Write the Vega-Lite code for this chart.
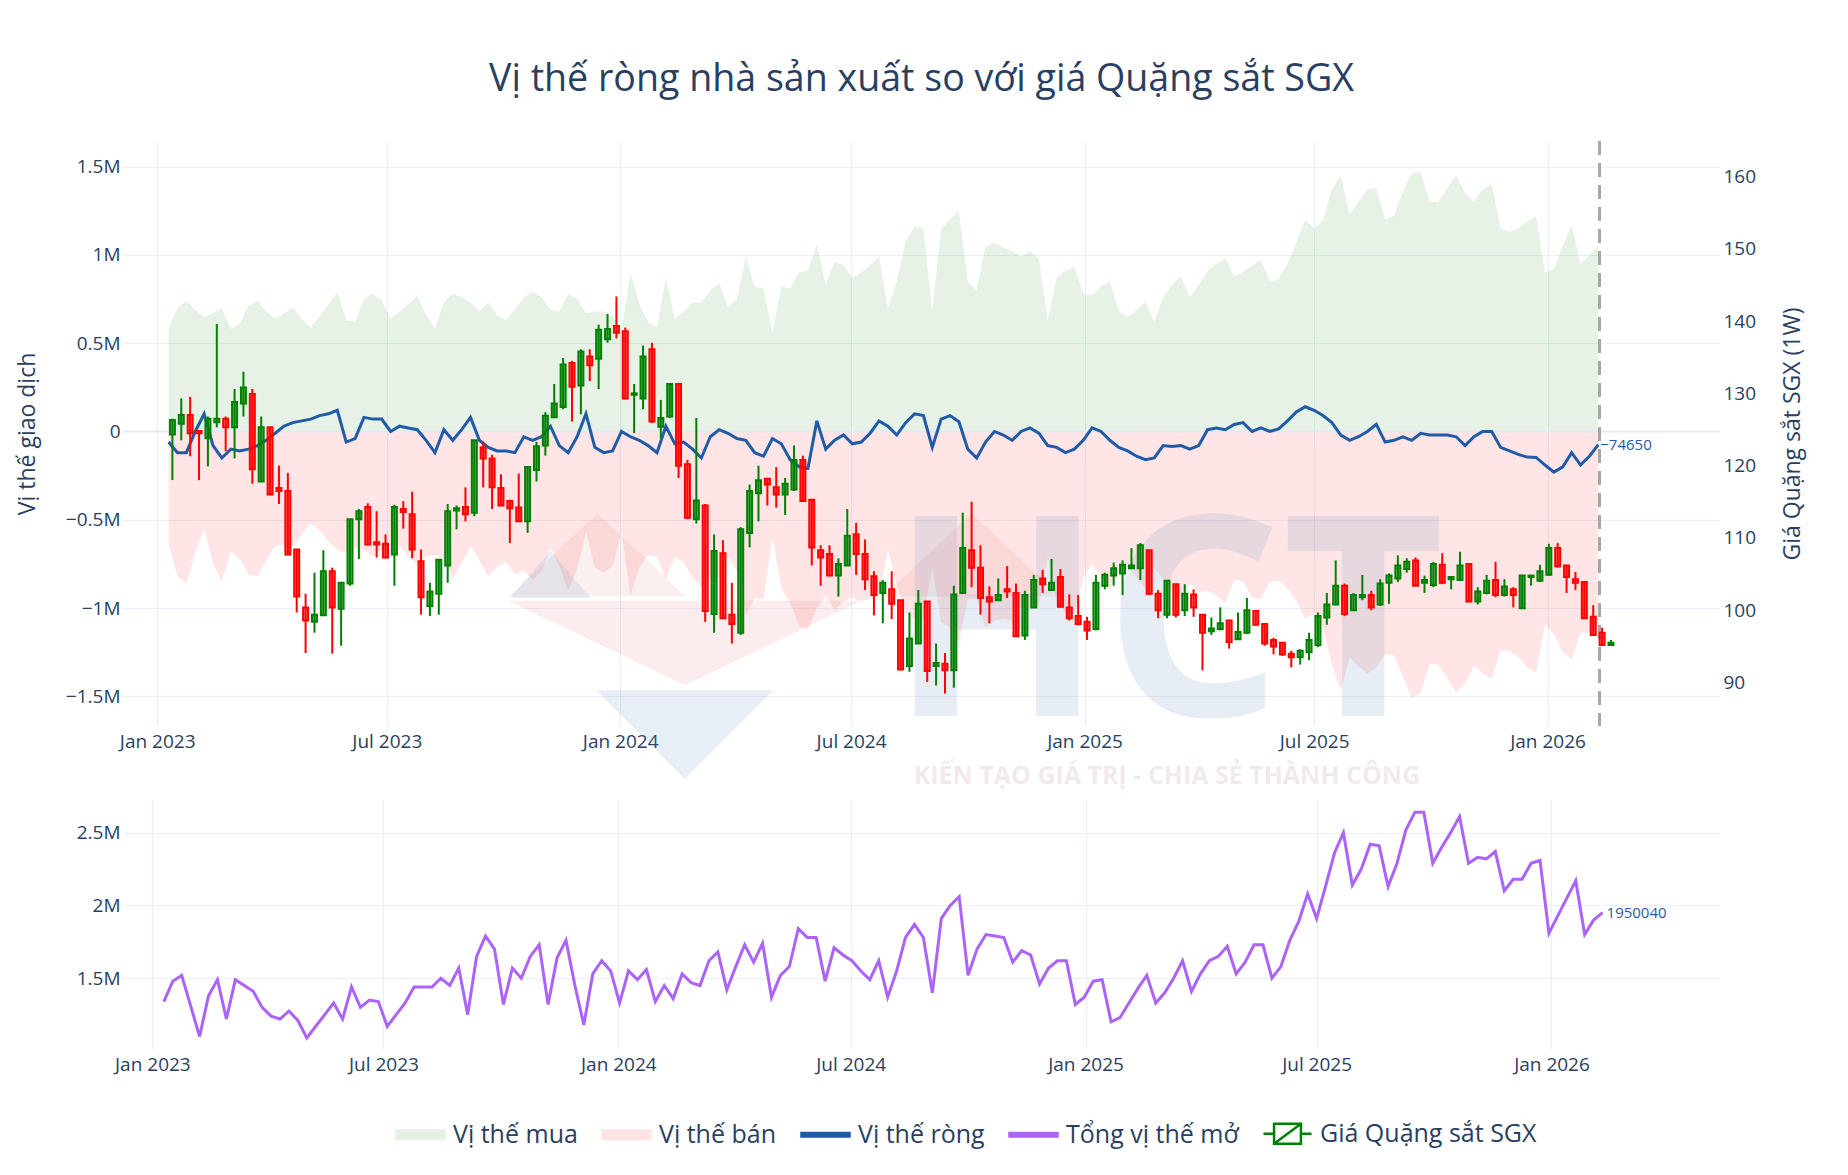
{
  "$schema": "https://vega.github.io/schema/vega-lite/v6.json",
  "background": "white",
  "padding": {"left": 16, "top": 60, "right": 10, "bottom": 10},
  "config": {
    "font": "Open Sans",
    "view": {"stroke": null},
    "axis": {"labelFont": "Open Sans", "labelFontSize": 19, "labelColor": "#2a3f5f", "titleFont": "Open Sans", "titleFontSize": 23, "titleFontWeight": "normal", "titleColor": "#2a3f5f", "gridColor": "#EBF0F8", "gridWidth": 1, "domain": false, "ticks": false}
  },
  "datasets": {
    "one": [{}],
    "cot": [
      {"date":"2023-01-10","long":580000,"short":-640000,"net":-60000,"oi":1340000},
      {"date":"2023-01-17","long":700000,"short":-820000,"net":-120000,"oi":1480000},
      {"date":"2023-01-24","long":740000,"short":-860000,"net":-120000,"oi":1520000},
      {"date":"2023-01-31","long":690000,"short":-690000,"net":0,"oi":1310000},
      {"date":"2023-02-07","long":650000,"short":-550000,"net":100000,"oi":1100000},
      {"date":"2023-02-14","long":670000,"short":-750000,"net":-80000,"oi":1380000},
      {"date":"2023-02-21","long":700000,"short":-850000,"net":-150000,"oi":1490000},
      {"date":"2023-02-28","long":580000,"short":-680000,"net":-100000,"oi":1220000},
      {"date":"2023-03-07","long":610000,"short":-720000,"net":-110000,"oi":1490000},
      {"date":"2023-03-14","long":710000,"short":-810000,"net":-100000,"oi":1450000},
      {"date":"2023-03-21","long":740000,"short":-820000,"net":-80000,"oi":1410000},
      {"date":"2023-03-28","long":680000,"short":-730000,"net":-50000,"oi":1300000},
      {"date":"2023-04-04","long":640000,"short":-650000,"net":-10000,"oi":1240000},
      {"date":"2023-04-11","long":670000,"short":-640000,"net":30000,"oi":1220000},
      {"date":"2023-04-18","long":700000,"short":-650000,"net":50000,"oi":1275000},
      {"date":"2023-04-25","long":640000,"short":-580000,"net":60000,"oi":1210000},
      {"date":"2023-05-02","long":590000,"short":-520000,"net":70000,"oi":1090000},
      {"date":"2023-05-09","long":650000,"short":-560000,"net":90000,"oi":1170000},
      {"date":"2023-05-16","long":720000,"short":-620000,"net":100000,"oi":1250000},
      {"date":"2023-05-23","long":790000,"short":-670000,"net":120000,"oi":1330000},
      {"date":"2023-05-30","long":630000,"short":-690000,"net":-60000,"oi":1220000},
      {"date":"2023-06-06","long":620000,"short":-660000,"net":-40000,"oi":1440000},
      {"date":"2023-06-13","long":750000,"short":-670000,"net":80000,"oi":1300000},
      {"date":"2023-06-20","long":780000,"short":-710000,"net":70000,"oi":1350000},
      {"date":"2023-06-27","long":740000,"short":-670000,"net":70000,"oi":1340000},
      {"date":"2023-07-04","long":640000,"short":-640000,"net":0,"oi":1170000},
      {"date":"2023-07-11","long":680000,"short":-650000,"net":30000,"oi":1250000},
      {"date":"2023-07-18","long":720000,"short":-700000,"net":20000,"oi":1330000},
      {"date":"2023-07-25","long":770000,"short":-760000,"net":10000,"oi":1440000},
      {"date":"2023-08-01","long":660000,"short":-710000,"net":-50000,"oi":1440000},
      {"date":"2023-08-08","long":580000,"short":-700000,"net":-120000,"oi":1440000},
      {"date":"2023-08-15","long":730000,"short":-720000,"net":10000,"oi":1500000},
      {"date":"2023-08-22","long":780000,"short":-830000,"net":-50000,"oi":1450000},
      {"date":"2023-08-29","long":760000,"short":-750000,"net":10000,"oi":1570000},
      {"date":"2023-09-05","long":730000,"short":-650000,"net":80000,"oi":1250000},
      {"date":"2023-09-12","long":680000,"short":-730000,"net":-50000,"oi":1650000},
      {"date":"2023-09-19","long":730000,"short":-820000,"net":-90000,"oi":1790000},
      {"date":"2023-09-26","long":660000,"short":-770000,"net":-110000,"oi":1700000},
      {"date":"2023-10-03","long":630000,"short":-740000,"net":-110000,"oi":1320000},
      {"date":"2023-10-10","long":690000,"short":-810000,"net":-120000,"oi":1570000},
      {"date":"2023-10-17","long":760000,"short":-790000,"net":-30000,"oi":1500000},
      {"date":"2023-10-24","long":790000,"short":-840000,"net":-50000,"oi":1650000},
      {"date":"2023-10-31","long":760000,"short":-790000,"net":-30000,"oi":1730000},
      {"date":"2023-11-07","long":690000,"short":-660000,"net":30000,"oi":1320000},
      {"date":"2023-11-14","long":680000,"short":-760000,"net":-80000,"oi":1640000},
      {"date":"2023-11-21","long":780000,"short":-900000,"net":-120000,"oi":1760000},
      {"date":"2023-11-28","long":750000,"short":-780000,"net":-30000,"oi":1450000},
      {"date":"2023-12-05","long":670000,"short":-570000,"net":100000,"oi":1180000},
      {"date":"2023-12-12","long":680000,"short":-770000,"net":-90000,"oi":1530000},
      {"date":"2023-12-19","long":680000,"short":-800000,"net":-120000,"oi":1620000},
      {"date":"2023-12-26","long":650000,"short":-760000,"net":-110000,"oi":1550000},
      {"date":"2024-01-02","long":570000,"short":-570000,"net":0,"oi":1330000},
      {"date":"2024-01-09","long":900000,"short":-930000,"net":-30000,"oi":1550000},
      {"date":"2024-01-16","long":720000,"short":-770000,"net":-50000,"oi":1490000},
      {"date":"2024-01-23","long":620000,"short":-700000,"net":-80000,"oi":1560000},
      {"date":"2024-01-30","long":590000,"short":-710000,"net":-120000,"oi":1340000},
      {"date":"2024-02-06","long":870000,"short":-840000,"net":30000,"oi":1450000},
      {"date":"2024-02-13","long":640000,"short":-710000,"net":-70000,"oi":1360000},
      {"date":"2024-02-20","long":680000,"short":-740000,"net":-60000,"oi":1530000},
      {"date":"2024-02-27","long":730000,"short":-830000,"net":-100000,"oi":1470000},
      {"date":"2024-03-05","long":730000,"short":-880000,"net":-150000,"oi":1450000},
      {"date":"2024-03-12","long":800000,"short":-830000,"net":-30000,"oi":1620000},
      {"date":"2024-03-19","long":840000,"short":-830000,"net":10000,"oi":1680000},
      {"date":"2024-03-26","long":700000,"short":-710000,"net":-10000,"oi":1420000},
      {"date":"2024-04-02","long":750000,"short":-790000,"net":-40000,"oi":1580000},
      {"date":"2024-04-09","long":990000,"short":-1040000,"net":-50000,"oi":1730000},
      {"date":"2024-04-16","long":820000,"short":-940000,"net":-120000,"oi":1610000},
      {"date":"2024-04-23","long":810000,"short":-950000,"net":-140000,"oi":1740000},
      {"date":"2024-04-30","long":560000,"short":-600000,"net":-40000,"oi":1370000},
      {"date":"2024-05-07","long":820000,"short":-890000,"net":-70000,"oi":1520000},
      {"date":"2024-05-14","long":810000,"short":-970000,"net":-160000,"oi":1580000},
      {"date":"2024-05-21","long":900000,"short":-1100000,"net":-200000,"oi":1840000},
      {"date":"2024-05-28","long":910000,"short":-1120000,"net":-210000,"oi":1780000},
      {"date":"2024-06-04","long":1060000,"short":-1000000,"net":60000,"oi":1780000},
      {"date":"2024-06-11","long":830000,"short":-930000,"net":-100000,"oi":1480000},
      {"date":"2024-06-18","long":960000,"short":-1010000,"net":-50000,"oi":1710000},
      {"date":"2024-06-25","long":940000,"short":-960000,"net":-20000,"oi":1660000},
      {"date":"2024-07-02","long":870000,"short":-940000,"net":-70000,"oi":1620000},
      {"date":"2024-07-09","long":900000,"short":-960000,"net":-60000,"oi":1550000},
      {"date":"2024-07-16","long":940000,"short":-950000,"net":-10000,"oi":1490000},
      {"date":"2024-07-23","long":990000,"short":-930000,"net":60000,"oi":1620000},
      {"date":"2024-07-30","long":700000,"short":-670000,"net":30000,"oi":1370000},
      {"date":"2024-08-06","long":850000,"short":-870000,"net":-20000,"oi":1550000},
      {"date":"2024-08-13","long":1080000,"short":-1030000,"net":50000,"oi":1780000},
      {"date":"2024-08-20","long":1160000,"short":-1060000,"net":100000,"oi":1870000},
      {"date":"2024-08-27","long":1150000,"short":-1060000,"net":90000,"oi":1780000},
      {"date":"2024-09-03","long":680000,"short":-770000,"net":-90000,"oi":1400000},
      {"date":"2024-09-10","long":1150000,"short":-1080000,"net":70000,"oi":1910000},
      {"date":"2024-09-17","long":1200000,"short":-1110000,"net":90000,"oi":2000000},
      {"date":"2024-09-24","long":1250000,"short":-1195000,"net":55000,"oi":2060000},
      {"date":"2024-10-01","long":850000,"short":-950000,"net":-100000,"oi":1520000},
      {"date":"2024-10-08","long":800000,"short":-950000,"net":-150000,"oi":1700000},
      {"date":"2024-10-15","long":1050000,"short":-1110000,"net":-60000,"oi":1800000},
      {"date":"2024-10-22","long":1070000,"short":-1070000,"net":0,"oi":1790000},
      {"date":"2024-10-29","long":1040000,"short":-1060000,"net":-20000,"oi":1780000},
      {"date":"2024-11-05","long":1020000,"short":-1070000,"net":-50000,"oi":1610000},
      {"date":"2024-11-12","long":990000,"short":-990000,"net":0,"oi":1690000},
      {"date":"2024-11-19","long":1020000,"short":-1000000,"net":20000,"oi":1660000},
      {"date":"2024-11-26","long":980000,"short":-990000,"net":-10000,"oi":1460000},
      {"date":"2024-12-03","long":630000,"short":-710000,"net":-80000,"oi":1570000},
      {"date":"2024-12-10","long":870000,"short":-960000,"net":-90000,"oi":1620000},
      {"date":"2024-12-17","long":910000,"short":-1030000,"net":-120000,"oi":1620000},
      {"date":"2024-12-24","long":930000,"short":-1030000,"net":-100000,"oi":1320000},
      {"date":"2024-12-31","long":780000,"short":-830000,"net":-50000,"oi":1370000},
      {"date":"2025-01-07","long":770000,"short":-750000,"net":20000,"oi":1480000},
      {"date":"2025-01-14","long":820000,"short":-820000,"net":0,"oi":1490000},
      {"date":"2025-01-21","long":850000,"short":-900000,"net":-50000,"oi":1200000},
      {"date":"2025-01-28","long":680000,"short":-770000,"net":-90000,"oi":1230000},
      {"date":"2025-02-04","long":645000,"short":-755000,"net":-110000,"oi":1330000},
      {"date":"2025-02-11","long":690000,"short":-830000,"net":-140000,"oi":1430000},
      {"date":"2025-02-18","long":730000,"short":-890000,"net":-160000,"oi":1520000},
      {"date":"2025-02-25","long":620000,"short":-770000,"net":-150000,"oi":1330000},
      {"date":"2025-03-04","long":760000,"short":-840000,"net":-80000,"oi":1400000},
      {"date":"2025-03-11","long":830000,"short":-915000,"net":-85000,"oi":1500000},
      {"date":"2025-03-18","long":880000,"short":-960000,"net":-80000,"oi":1620000},
      {"date":"2025-03-25","long":760000,"short":-860000,"net":-100000,"oi":1410000},
      {"date":"2025-04-01","long":830000,"short":-910000,"net":-80000,"oi":1530000},
      {"date":"2025-04-08","long":910000,"short":-900000,"net":10000,"oi":1620000},
      {"date":"2025-04-15","long":950000,"short":-930000,"net":20000,"oi":1650000},
      {"date":"2025-04-22","long":980000,"short":-970000,"net":10000,"oi":1720000},
      {"date":"2025-04-29","long":880000,"short":-840000,"net":40000,"oi":1530000},
      {"date":"2025-05-06","long":900000,"short":-850000,"net":50000,"oi":1610000},
      {"date":"2025-05-13","long":940000,"short":-940000,"net":0,"oi":1730000},
      {"date":"2025-05-20","long":970000,"short":-950000,"net":20000,"oi":1730000},
      {"date":"2025-05-27","long":850000,"short":-850000,"net":0,"oi":1500000},
      {"date":"2025-06-03","long":860000,"short":-845000,"net":15000,"oi":1580000},
      {"date":"2025-06-10","long":950000,"short":-890000,"net":60000,"oi":1760000},
      {"date":"2025-06-17","long":1070000,"short":-960000,"net":110000,"oi":1890000},
      {"date":"2025-06-24","long":1200000,"short":-1060000,"net":140000,"oi":2080000},
      {"date":"2025-07-01","long":1150000,"short":-1030000,"net":120000,"oi":1910000},
      {"date":"2025-07-08","long":1200000,"short":-1110000,"net":90000,"oi":2130000},
      {"date":"2025-07-15","long":1370000,"short":-1320000,"net":50000,"oi":2360000},
      {"date":"2025-07-22","long":1450000,"short":-1470000,"net":-20000,"oi":2500000},
      {"date":"2025-07-29","long":1230000,"short":-1280000,"net":-50000,"oi":2140000},
      {"date":"2025-08-05","long":1300000,"short":-1330000,"net":-30000,"oi":2250000},
      {"date":"2025-08-12","long":1370000,"short":-1370000,"net":0,"oi":2420000},
      {"date":"2025-08-19","long":1380000,"short":-1340000,"net":40000,"oi":2410000},
      {"date":"2025-08-26","long":1200000,"short":-1260000,"net":-60000,"oi":2130000},
      {"date":"2025-09-02","long":1220000,"short":-1270000,"net":-50000,"oi":2290000},
      {"date":"2025-09-09","long":1360000,"short":-1390000,"net":-30000,"oi":2520000},
      {"date":"2025-09-16","long":1460000,"short":-1510000,"net":-50000,"oi":2640000},
      {"date":"2025-09-23","long":1470000,"short":-1480000,"net":-10000,"oi":2640000},
      {"date":"2025-09-30","long":1300000,"short":-1320000,"net":-20000,"oi":2290000},
      {"date":"2025-10-07","long":1300000,"short":-1320000,"net":-20000,"oi":2400000},
      {"date":"2025-10-14","long":1380000,"short":-1400000,"net":-20000,"oi":2500000},
      {"date":"2025-10-21","long":1450000,"short":-1480000,"net":-30000,"oi":2610000},
      {"date":"2025-10-28","long":1350000,"short":-1430000,"net":-80000,"oi":2290000},
      {"date":"2025-11-04","long":1300000,"short":-1330000,"net":-30000,"oi":2330000},
      {"date":"2025-11-11","long":1370000,"short":-1370000,"net":0,"oi":2320000},
      {"date":"2025-11-18","long":1400000,"short":-1400000,"net":0,"oi":2370000},
      {"date":"2025-11-25","long":1150000,"short":-1240000,"net":-90000,"oi":2100000},
      {"date":"2025-12-02","long":1130000,"short":-1240000,"net":-110000,"oi":2180000},
      {"date":"2025-12-09","long":1150000,"short":-1280000,"net":-130000,"oi":2180000},
      {"date":"2025-12-16","long":1190000,"short":-1335000,"net":-145000,"oi":2290000},
      {"date":"2025-12-23","long":1220000,"short":-1367000,"net":-147000,"oi":2310000},
      {"date":"2025-12-30","long":900000,"short":-1090000,"net":-190000,"oi":1810000},
      {"date":"2026-01-06","long":920000,"short":-1150000,"net":-230000,"oi":1930000},
      {"date":"2026-01-13","long":1050000,"short":-1250000,"net":-200000,"oi":2050000},
      {"date":"2026-01-20","long":1170000,"short":-1290000,"net":-120000,"oi":2170000},
      {"date":"2026-01-27","long":950000,"short":-1140000,"net":-190000,"oi":1800000},
      {"date":"2026-02-03","long":1000000,"short":-1140000,"net":-140000,"oi":1900000},
      {"date":"2026-02-10","long":1050000,"short":-1124650,"net":-74650,"oi":1950040}
    ],
    "sgx": [
      {"date":"2023-01-13","open":124.3,"high":126.5,"low":118.0,"close":126.3},
      {"date":"2023-01-20","open":125.8,"high":129.3,"low":123.5,"close":127.0},
      {"date":"2023-01-27","open":127.0,"high":129.5,"low":121.3,"close":124.5},
      {"date":"2023-02-03","open":124.8,"high":124.8,"low":118.0,"close":124.5},
      {"date":"2023-02-10","open":123.8,"high":126.8,"low":119.9,"close":126.5},
      {"date":"2023-02-17","open":126.0,"high":139.6,"low":125.3,"close":126.5},
      {"date":"2023-02-24","open":126.5,"high":126.8,"low":122.0,"close":125.3},
      {"date":"2023-03-03","open":125.3,"high":130.6,"low":121.0,"close":128.8},
      {"date":"2023-03-10","open":128.6,"high":133.0,"low":126.8,"close":130.8},
      {"date":"2023-03-17","open":129.9,"high":130.6,"low":117.5,"close":119.5},
      {"date":"2023-03-24","open":117.8,"high":126.8,"low":117.8,"close":125.3},
      {"date":"2023-03-31","open":125.3,"high":125.3,"low":116.0,"close":116.0},
      {"date":"2023-04-07","open":116.9,"high":120.0,"low":114.7,"close":116.5},
      {"date":"2023-04-14","open":116.5,"high":119.0,"low":107.6,"close":107.7},
      {"date":"2023-04-21","open":108.4,"high":108.4,"low":99.7,"close":101.9},
      {"date":"2023-04-28","open":100.4,"high":102.3,"low":94.1,"close":98.6},
      {"date":"2023-05-05","open":98.4,"high":105.2,"low":96.9,"close":99.4},
      {"date":"2023-05-12","open":99.3,"high":108.3,"low":99.3,"close":105.4},
      {"date":"2023-05-19","open":105.4,"high":105.9,"low":94.0,"close":100.4},
      {"date":"2023-05-26","open":100.2,"high":103.9,"low":95.1,"close":103.8},
      {"date":"2023-06-02","open":103.7,"high":112.6,"low":103.4,"close":112.6},
      {"date":"2023-06-09","open":112.6,"high":114.0,"low":107.1,"close":113.7},
      {"date":"2023-06-16","open":114.3,"high":114.8,"low":109.0,"close":109.1},
      {"date":"2023-06-23","open":109.4,"high":113.7,"low":107.3,"close":109.1},
      {"date":"2023-06-30","open":109.2,"high":110.5,"low":107.2,"close":107.3},
      {"date":"2023-07-07","open":107.7,"high":114.6,"low":103.4,"close":114.3},
      {"date":"2023-07-14","open":114.0,"high":115.1,"low":111.3,"close":113.6},
      {"date":"2023-07-21","open":113.3,"high":116.4,"low":107.2,"close":108.4},
      {"date":"2023-07-28","open":106.8,"high":108.4,"low":99.4,"close":101.8},
      {"date":"2023-08-04","open":100.6,"high":103.8,"low":99.2,"close":102.6},
      {"date":"2023-08-11","open":102.3,"high":107.1,"low":99.4,"close":107.0},
      {"date":"2023-08-18","open":106.2,"high":114.7,"low":103.8,"close":113.7},
      {"date":"2023-08-25","open":113.8,"high":114.5,"low":111.2,"close":114.1},
      {"date":"2023-09-01","open":114.3,"high":117.0,"low":112.3,"close":113.3},
      {"date":"2023-09-08","open":113.5,"high":123.5,"low":113.0,"close":123.5},
      {"date":"2023-09-15","open":122.5,"high":123.3,"low":117.0,"close":121.0},
      {"date":"2023-09-22","open":121.0,"high":121.5,"low":114.0,"close":117.0},
      {"date":"2023-09-29","open":116.9,"high":118.8,"low":114.5,"close":114.5},
      {"date":"2023-10-06","open":115.1,"high":115.3,"low":109.3,"close":114.1},
      {"date":"2023-10-13","open":114.2,"high":118.9,"low":112.3,"close":112.3},
      {"date":"2023-10-20","open":112.3,"high":119.8,"low":110.7,"close":119.8},
      {"date":"2023-10-27","open":119.4,"high":123.3,"low":117.8,"close":122.7},
      {"date":"2023-11-03","open":122.8,"high":127.4,"low":121.4,"close":126.9},
      {"date":"2023-11-10","open":126.7,"high":131.3,"low":126.6,"close":128.6},
      {"date":"2023-11-17","open":128.1,"high":134.9,"low":127.8,"close":134.0},
      {"date":"2023-11-24","open":134.2,"high":134.5,"low":126.1,"close":130.9},
      {"date":"2023-12-01","open":131.1,"high":136.1,"low":127.1,"close":135.8},
      {"date":"2023-12-08","open":135.1,"high":136.1,"low":131.7,"close":133.9},
      {"date":"2023-12-15","open":134.8,"high":139.5,"low":130.6,"close":138.8},
      {"date":"2023-12-22","open":137.5,"high":141.0,"low":137.0,"close":138.9},
      {"date":"2023-12-29","open":139.3,"high":143.4,"low":137.6,"close":138.4},
      {"date":"2024-01-05","open":138.6,"high":139.1,"low":129.2,"close":129.3},
      {"date":"2024-01-12","open":129.8,"high":131.3,"low":124.5,"close":130.0},
      {"date":"2024-01-19","open":129.3,"high":136.6,"low":127.8,"close":135.1},
      {"date":"2024-01-26","open":136.1,"high":137.0,"low":125.9,"close":126.1},
      {"date":"2024-02-02","open":125.4,"high":129.1,"low":123.8,"close":126.6},
      {"date":"2024-02-09","open":126.8,"high":131.3,"low":126.6,"close":131.3},
      {"date":"2024-02-16","open":131.3,"high":131.3,"low":118.3,"close":120.0},
      {"date":"2024-02-23","open":120.2,"high":120.8,"low":112.6,"close":112.8},
      {"date":"2024-03-01","open":112.6,"high":126.6,"low":112.0,"close":115.2},
      {"date":"2024-03-08","open":114.5,"high":114.7,"low":98.4,"close":99.9},
      {"date":"2024-03-15","open":99.5,"high":110.5,"low":96.9,"close":108.2},
      {"date":"2024-03-22","open":107.9,"high":109.7,"low":98.9,"close":98.9},
      {"date":"2024-03-29","open":99.4,"high":103.8,"low":95.4,"close":98.1},
      {"date":"2024-04-05","open":96.9,"high":111.5,"low":96.6,"close":111.2},
      {"date":"2024-04-12","open":110.7,"high":117.4,"low":108.7,"close":116.5},
      {"date":"2024-04-19","open":116.2,"high":120.0,"low":112.3,"close":118.0},
      {"date":"2024-04-26","open":118.2,"high":118.3,"low":114.5,"close":117.4},
      {"date":"2024-05-03","open":117.0,"high":119.8,"low":114.2,"close":116.0},
      {"date":"2024-05-10","open":116.0,"high":118.3,"low":113.2,"close":117.5},
      {"date":"2024-05-17","open":116.7,"high":122.8,"low":116.5,"close":120.8},
      {"date":"2024-05-24","open":120.8,"high":121.4,"low":115.0,"close":115.1},
      {"date":"2024-05-31","open":115.3,"high":115.3,"low":106.2,"close":108.7},
      {"date":"2024-06-07","open":108.3,"high":109.0,"low":103.4,"close":107.3},
      {"date":"2024-06-14","open":107.8,"high":109.0,"low":104.7,"close":104.8},
      {"date":"2024-06-21","open":104.8,"high":107.2,"low":101.9,"close":106.4},
      {"date":"2024-06-28","open":106.2,"high":114.0,"low":106.2,"close":110.3},
      {"date":"2024-07-05","open":110.5,"high":112.1,"low":104.9,"close":107.8},
      {"date":"2024-07-12","open":107.8,"high":109.8,"low":102.8,"close":104.3},
      {"date":"2024-07-19","open":104.7,"high":105.4,"low":99.3,"close":102.1},
      {"date":"2024-07-26","open":102.4,"high":104.2,"low":98.2,"close":103.8},
      {"date":"2024-08-02","open":102.9,"high":105.4,"low":98.8,"close":100.9},
      {"date":"2024-08-09","open":101.4,"high":101.4,"low":91.8,"close":91.8},
      {"date":"2024-08-16","open":92.3,"high":99.7,"low":91.5,"close":96.1},
      {"date":"2024-08-23","open":95.4,"high":102.8,"low":95.4,"close":100.9},
      {"date":"2024-08-30","open":101.2,"high":101.2,"low":90.1,"close":91.6},
      {"date":"2024-09-06","open":92.3,"high":95.4,"low":89.6,"close":92.7},
      {"date":"2024-09-13","open":92.6,"high":94.1,"low":88.5,"close":91.7},
      {"date":"2024-09-20","open":91.7,"high":103.4,"low":89.3,"close":102.2},
      {"date":"2024-09-27","open":102.4,"high":113.5,"low":102.3,"close":108.6},
      {"date":"2024-10-04","open":108.3,"high":115.0,"low":103.2,"close":105.9},
      {"date":"2024-10-11","open":105.9,"high":109.0,"low":99.4,"close":101.7},
      {"date":"2024-10-18","open":101.8,"high":103.3,"low":98.2,"close":101.2},
      {"date":"2024-10-25","open":101.4,"high":104.4,"low":101.4,"close":102.1},
      {"date":"2024-11-01","open":102.9,"high":106.1,"low":101.7,"close":102.6},
      {"date":"2024-11-08","open":102.4,"high":103.7,"low":96.4,"close":96.4},
      {"date":"2024-11-15","open":96.5,"high":102.7,"low":95.9,"close":102.1},
      {"date":"2024-11-22","open":100.4,"high":104.9,"low":100.3,"close":104.2},
      {"date":"2024-11-29","open":104.4,"high":105.6,"low":102.4,"close":103.6},
      {"date":"2024-12-06","open":102.8,"high":107.1,"low":102.7,"close":103.8},
      {"date":"2024-12-13","open":104.6,"high":105.7,"low":100.4,"close":100.5},
      {"date":"2024-12-20","open":100.4,"high":102.2,"low":98.6,"close":98.9},
      {"date":"2024-12-27","open":99.2,"high":102.1,"low":97.9,"close":98.1},
      {"date":"2025-01-03","open":98.4,"high":99.1,"low":95.9,"close":97.2},
      {"date":"2025-01-10","open":97.4,"high":104.9,"low":97.2,"close":103.8},
      {"date":"2025-01-17","open":103.4,"high":105.2,"low":102.9,"close":104.9},
      {"date":"2025-01-24","open":104.8,"high":106.6,"low":103.4,"close":105.8},
      {"date":"2025-01-31","open":105.1,"high":106.9,"low":102.1,"close":106.3},
      {"date":"2025-02-07","open":105.8,"high":108.6,"low":105.7,"close":106.2},
      {"date":"2025-02-14","open":105.8,"high":109.3,"low":104.2,"close":109.0},
      {"date":"2025-02-21","open":108.3,"high":108.3,"low":102.1,"close":102.3},
      {"date":"2025-02-28","open":102.3,"high":102.8,"low":98.9,"close":100.0},
      {"date":"2025-03-07","open":99.4,"high":104.2,"low":98.9,"close":104.1},
      {"date":"2025-03-14","open":103.6,"high":103.6,"low":99.0,"close":99.4},
      {"date":"2025-03-21","open":100.0,"high":103.6,"low":99.2,"close":102.3},
      {"date":"2025-03-28","open":102.2,"high":102.9,"low":99.1,"close":100.4},
      {"date":"2025-04-04","open":99.4,"high":99.4,"low":91.7,"close":96.9},
      {"date":"2025-04-11","open":97.1,"high":99.0,"low":96.6,"close":97.5},
      {"date":"2025-04-18","open":97.4,"high":100.4,"low":97.2,"close":98.2},
      {"date":"2025-04-25","open":98.6,"high":98.6,"low":94.7,"close":95.6},
      {"date":"2025-05-02","open":96.0,"high":99.7,"low":95.9,"close":97.0},
      {"date":"2025-05-09","open":96.9,"high":101.7,"low":96.7,"close":100.0},
      {"date":"2025-05-16","open":99.9,"high":100.0,"low":97.9,"close":98.0},
      {"date":"2025-05-23","open":98.1,"high":98.1,"low":95.1,"close":95.4},
      {"date":"2025-05-30","open":95.9,"high":96.2,"low":93.9,"close":95.0},
      {"date":"2025-06-06","open":95.5,"high":95.6,"low":93.7,"close":93.9},
      {"date":"2025-06-13","open":94.0,"high":94.4,"low":92.1,"close":93.5},
      {"date":"2025-06-20","open":93.5,"high":94.6,"low":92.5,"close":94.4},
      {"date":"2025-06-27","open":94.2,"high":96.9,"low":93.1,"close":95.9},
      {"date":"2025-07-04","open":95.2,"high":99.7,"low":94.9,"close":99.2},
      {"date":"2025-07-11","open":99.0,"high":102.4,"low":98.0,"close":100.8},
      {"date":"2025-07-18","open":100.8,"high":106.9,"low":100.7,"close":103.4},
      {"date":"2025-07-25","open":103.4,"high":103.7,"low":99.2,"close":99.5},
      {"date":"2025-08-01","open":100.0,"high":102.4,"low":99.9,"close":102.1},
      {"date":"2025-08-08","open":101.8,"high":104.9,"low":101.4,"close":102.1},
      {"date":"2025-08-15","open":102.1,"high":102.7,"low":100.0,"close":100.4},
      {"date":"2025-08-22","open":100.8,"high":104.3,"low":100.6,"close":103.7},
      {"date":"2025-08-29","open":103.8,"high":105.1,"low":100.9,"close":104.8},
      {"date":"2025-09-05","open":104.4,"high":107.6,"low":103.9,"close":106.2},
      {"date":"2025-09-12","open":105.7,"high":107.2,"low":105.2,"close":106.7},
      {"date":"2025-09-19","open":106.9,"high":107.3,"low":103.4,"close":103.4},
      {"date":"2025-09-26","open":103.8,"high":104.8,"low":102.4,"close":104.2},
      {"date":"2025-10-03","open":103.5,"high":106.7,"low":103.2,"close":106.4},
      {"date":"2025-10-10","open":106.3,"high":107.9,"low":103.6,"close":103.8},
      {"date":"2025-10-17","open":104.3,"high":104.7,"low":102.9,"close":104.6},
      {"date":"2025-10-24","open":104.2,"high":108.1,"low":104.1,"close":106.2},
      {"date":"2025-10-31","open":106.4,"high":106.4,"low":101.1,"close":101.2},
      {"date":"2025-11-07","open":101.2,"high":103.2,"low":100.8,"close":102.6},
      {"date":"2025-11-14","open":102.4,"high":104.9,"low":102.2,"close":104.1},
      {"date":"2025-11-21","open":104.2,"high":106.7,"low":101.8,"close":102.1},
      {"date":"2025-11-28","open":102.1,"high":104.3,"low":101.9,"close":103.3},
      {"date":"2025-12-05","open":102.9,"high":103.2,"low":100.4,"close":102.1},
      {"date":"2025-12-12","open":100.3,"high":104.9,"low":100.2,"close":104.8},
      {"date":"2025-12-19","open":104.6,"high":104.9,"low":103.4,"close":104.8},
      {"date":"2025-12-26","open":104.1,"high":106.3,"low":103.9,"close":105.4},
      {"date":"2026-01-02","open":104.9,"high":109.2,"low":104.8,"close":108.6},
      {"date":"2026-01-09","open":108.6,"high":109.3,"low":105.9,"close":106.1},
      {"date":"2026-01-16","open":106.2,"high":106.2,"low":102.4,"close":104.6},
      {"date":"2026-01-23","open":104.3,"high":105.3,"low":102.8,"close":103.8},
      {"date":"2026-01-30","open":103.9,"high":103.9,"low":98.9,"close":98.9},
      {"date":"2026-02-06","open":99.1,"high":100.7,"low":96.5,"close":96.6},
      {"date":"2026-02-13","open":96.9,"high":97.6,"low":95.1,"close":95.2},
      {"date":"2026-02-20","open":95.2,"high":95.9,"low":95.1,"close":95.5}
    ]
  },
  "spacing": 73,
  "bounds": "flush",
  "vconcat": [
    {
      "width": 1597,
      "height": 585,
      "title": {"text": "Vị thế ròng nhà sản xuất so với giá Quặng sắt SGX", "font": "Open Sans", "fontSize": 37.6, "fontWeight": "normal", "color": "#2a3f5f", "anchor": "middle", "frame": "group", "baseline": "alphabetic", "offset": 11},
      "layer": [
        {
          "data": {"name": "cot"},
          "layer": [
            {
              "mark": {"type": "area", "color": "#008000", "opacity": 0.1},
              "encoding": {
                "x": {"field": "date", "type": "temporal", "title": null,
                  "scale": {"domain": [{"year": 2022, "month": 12, "date": 9}, {"year": 2026, "month": 5, "date": 13}], "nice": false},
                  "axis": {"values": [{"year": 2023, "month": 1, "date": 1}, {"year": 2023, "month": 7, "date": 1}, {"year": 2024, "month": 1, "date": 1}, {"year": 2024, "month": 7, "date": 1}, {"year": 2025, "month": 1, "date": 1}, {"year": 2025, "month": 7, "date": 1}, {"year": 2026, "month": 1, "date": 1}], "format": "%b %Y", "labelFlush": false, "labelPadding": 6, "grid": true}},
                "y": {"field": "long", "type": "quantitative", "title": "Vị thế giao dịch",
                  "scale": {"domain": [-1668000, 1645000], "nice": false, "zero": false},
                  "axis": {"orient": "left", "values": [-1500000, -1000000, -500000, 0, 500000, 1000000, 1500000], "labelExpr": "datum.value == 0 ? '0' : format(datum.value / 1000000, '~g') + 'M'", "grid": true, "labelPadding": 3, "titlePadding": 26}},
                "y2": {"datum": 0}
              }
            },
            {
              "mark": {"type": "area", "color": "#FF0000", "opacity": 0.1},
              "encoding": {
                "x": {"field": "date", "type": "temporal", "title": null},
                "y": {"field": "short", "type": "quantitative", "title": "Vị thế giao dịch"},
                "y2": {"datum": 0}
              }
            },
            {
              "data": {"name": "one"},
              "mark": {"type": "rule", "color": "#E3E9F2", "strokeWidth": 2},
              "encoding": {"y": {"datum": 0, "type": "quantitative", "title": "Vị thế giao dịch"}}
            },
            {
              "data": {"name": "one"},
              "mark": {"type": "point", "shape": "M-1,0.47L1,0.47L0,-0.47Z", "filled": true, "size": 31329, "color": "rgb(215,90,90)", "opacity": 0.09, "clip": false},
              "encoding": {
                "x": {"datum": {"year": 2023, "month": 12, "date": 14}, "type": "temporal"},
                "y": {"datum": -699000, "type": "quantitative", "title": "Vị thế giao dịch"}
              }
            },
            {
              "data": {"name": "one"},
              "mark": {"type": "point", "shape": "M-1,0.47L1,0.47L0,-0.47Z", "filled": true, "size": 31329, "color": "rgb(215,90,90)", "opacity": 0.09, "clip": false},
              "encoding": {
                "x": {"datum": {"year": 2024, "month": 10, "date": 4}, "type": "temporal"},
                "y": {"datum": -699000, "type": "quantitative", "title": "Vị thế giao dịch"}
              }
            },
            {
              "data": {"name": "one"},
              "mark": {"type": "point", "shape": "M-1,0.58L1,0.58L0,-0.58Z", "filled": true, "size": 6561, "color": "rgb(100,140,190)", "opacity": 0.14, "clip": false},
              "encoding": {
                "x": {"datum": {"year": 2023, "month": 11, "date": 7}, "type": "temporal"},
                "y": {"datum": -810000, "type": "quantitative", "title": "Vị thế giao dịch"}
              }
            },
            {
              "data": {"name": "one"},
              "mark": {"type": "point", "shape": "M-1,-0.24L1,-0.24L0,0.24Z", "filled": true, "size": 124609, "color": "rgb(215,90,90)", "opacity": 0.11, "clip": false},
              "encoding": {
                "x": {"datum": {"year": 2024, "month": 2, "date": 21}, "type": "temporal"},
                "y": {"datum": -1198000, "type": "quantitative", "title": "Vị thế giao dịch"}
              }
            },
            {
              "data": {"name": "one"},
              "mark": {"type": "point", "shape": "M-1,-0.5L1,-0.5L0,0.5Z", "filled": true, "size": 31329, "color": "rgb(100,140,190)", "opacity": 0.15, "clip": false},
              "encoding": {
                "x": {"datum": {"year": 2024, "month": 2, "date": 21}, "type": "temporal"},
                "y": {"datum": -1716000, "type": "quantitative", "title": "Vị thế giao dịch"}
              }
            },
            {
              "data": {"name": "one"},
              "mark": {"type": "text", "text": "HCT", "font": "Open Sans", "fontWeight": "bold", "fontSize": 280, "align": "center", "baseline": "middle", "color": "rgb(100,140,190)", "opacity": 0.15},
              "encoding": {
                "x": {"datum": {"year": 2025, "month": 3, "date": 7}, "type": "temporal"},
                "y": {"datum": -1135000, "type": "quantitative", "title": "Vị thế giao dịch"}
              }
            },
            {
              "data": {"name": "one"},
              "mark": {"type": "text", "text": "KIẾN TẠO GIÁ TRỊ - CHIA SẺ THÀNH CÔNG", "font": "Open Sans", "fontWeight": "bold", "fontSize": 25, "align": "center", "baseline": "middle", "color": "rgb(190,150,170)", "opacity": 0.2, "clip": false},
              "encoding": {
                "x": {"datum": {"year": 2025, "month": 3, "date": 7}, "type": "temporal"},
                "y": {"datum": -1950000, "type": "quantitative", "title": "Vị thế giao dịch"}
              }
            },
            {
              "mark": {"type": "line", "color": "#1f5ba6", "strokeWidth": 3},
              "encoding": {
                "x": {"field": "date", "type": "temporal", "title": null},
                "y": {"field": "net", "type": "quantitative", "title": "Vị thế giao dịch"}
              }
            },
            {
              "transform": [{"filter": "utcyear(datum.date) === 2026 && utcmonth(datum.date) === 1 && utcdate(datum.date) === 10"}],
              "mark": {"type": "text", "align": "left", "baseline": "middle", "dx": 2, "font": "Open Sans", "fontSize": 15, "color": "#1f5ba6"},
              "encoding": {
                "x": {"field": "date", "type": "temporal", "title": null},
                "y": {"field": "net", "type": "quantitative", "title": "Vị thế giao dịch"},
                "text": {"field": "net", "type": "quantitative", "format": "d"}
              }
            },
            {
              "data": {"name": "one"},
              "mark": {"type": "rule", "color": "#a6a6a6", "strokeWidth": 3, "strokeDash": [14, 8]},
              "encoding": {"x": {"datum": {"year": 2026, "month": 2, "date": 11}, "type": "temporal"}}
            }
          ]
        },
        {
          "data": {"name": "sgx"},
          "layer": [
            {
              "mark": {"type": "rule", "strokeWidth": 2},
              "encoding": {
                "x": {"field": "date", "type": "temporal", "title": null},
                "y": {"field": "low", "type": "quantitative", "title": "Giá Quặng sắt SGX (1W)",
                  "scale": {"domain": [84, 164.9], "nice": false, "zero": false},
                  "axis": {"orient": "right", "values": [90, 100, 110, 120, 130, 140, 150, 160], "grid": false, "labelPadding": 3, "titlePadding": 26, "titleAngle": 270, "titleBaseline": "top"}},
                "y2": {"field": "high"},
                "color": {"condition": {"test": "datum.close >= datum.open", "value": "#008000"}, "value": "#FF0000"}
              }
            },
            {
              "mark": {"type": "bar", "size": 5, "strokeWidth": 2},
              "encoding": {
                "x": {"field": "date", "type": "temporal", "title": null},
                "y": {"field": "open", "type": "quantitative", "title": "Giá Quặng sắt SGX (1W)"},
                "y2": {"field": "close"},
                "fill": {"condition": {"test": "datum.close >= datum.open", "value": "rgba(0,128,0,0.5)"}, "value": "rgba(255,0,0,0.5)"},
                "stroke": {"condition": {"test": "datum.close >= datum.open", "value": "#008000"}, "value": "#FF0000"}
              }
            }
          ]
        }
      ],
      "resolve": {"scale": {"y": "independent"}}
    },
    {
      "width": 1597,
      "height": 250,
      "data": {"name": "cot"},
      "layer": [
        {
          "mark": {"type": "line", "strokeWidth": 3},
          "encoding": {
            "x": {"field": "date", "type": "temporal", "title": null,
              "scale": {"domain": [{"year": 2022, "month": 12, "date": 9}, {"year": 2026, "month": 5, "date": 13}], "nice": false},
              "axis": {"values": [{"year": 2023, "month": 1, "date": 1}, {"year": 2023, "month": 7, "date": 1}, {"year": 2024, "month": 1, "date": 1}, {"year": 2024, "month": 7, "date": 1}, {"year": 2025, "month": 1, "date": 1}, {"year": 2025, "month": 7, "date": 1}, {"year": 2026, "month": 1, "date": 1}], "format": "%b %Y", "labelFlush": false, "labelPadding": 6, "grid": true}},
            "y": {"field": "oi", "type": "quantitative", "title": null,
              "scale": {"domain": [1014000, 2731000], "nice": false, "zero": false},
              "axis": {"values": [1500000, 2000000, 2500000], "labelExpr": "format(datum.value / 1000000, '~g') + 'M'", "grid": true, "labelPadding": 3}},
            "color": {"datum": "Tổng vị thế mở", "type": "nominal",
              "scale": {"domain": ["Vị thế mua", "Vị thế bán", "Vị thế ròng", "Tổng vị thế mở", "Giá Quặng sắt SGX"], "range": ["#E6F3E6", "#FFE6E6", "#1f5ba6", "#AB63FA", "#008000"]},
              "legend": {
                "title": null, "orient": "none", "legendX": 272, "legendY": 967, "direction": "horizontal", "padding": 0,
                "labelFont": "Open Sans", "labelFontSize": 25, "labelColor": "#2a3f5f", "labelOffset": 7, "columnPadding": 19, "labelLimit": 600, "symbolSize": 2304,
                "encode": {"symbols": {"update": {
                  "shape": {"signal": "(datum.value === 'Vị thế mua' || datum.value === 'Vị thế bán') ? 'M-1,-0.19H1V0.19H-1Z' : datum.value === 'Giá Quặng sắt SGX' ? 'M-1,0H-0.56M-0.56,-0.42H0.56V0.42H-0.56ZM-0.56,0.42L0.56,-0.42M0.56,0H1' : 'M-1,-0.07H1V0.07H-1Z'"},
                  "fill": {"signal": "datum.value === 'Vị thế mua' ? 'rgba(0,128,0,0.11)' : datum.value === 'Vị thế bán' ? 'rgba(255,0,0,0.11)' : datum.value === 'Vị thế ròng' ? '#1f5ba6' : datum.value === 'Tổng vị thế mở' ? '#AB63FA' : 'transparent'"},
                  "stroke": {"signal": "datum.value === 'Giá Quặng sắt SGX' ? {gradient: 'linear', x1: 0, y1: 0, x2: 1, y2: 1, stops: [{offset: 0, color: '#008000'}, {offset: 0.5, color: '#008000'}, {offset: 0.5, color: '#FF0000'}, {offset: 1, color: '#FF0000'}]} : 'transparent'"},
                  "strokeWidth": {"value": 2.5},
                  "opacity": {"value": 1},
                  "size": {"value": 2304}
                }}}
              }
            }
          }
        },
        {
          "transform": [{"filter": "utcyear(datum.date) === 2026 && utcmonth(datum.date) === 1 && utcdate(datum.date) === 10"}],
          "mark": {"type": "text", "align": "left", "baseline": "middle", "dx": 4, "font": "Open Sans", "fontSize": 15, "color": "#1f5ba6"},
          "encoding": {
            "x": {"field": "date", "type": "temporal", "title": null},
            "y": {"field": "oi", "type": "quantitative", "title": null},
            "text": {"field": "oi", "type": "quantitative", "format": "d"}
          }
        }
      ]
    }
  ]
}
